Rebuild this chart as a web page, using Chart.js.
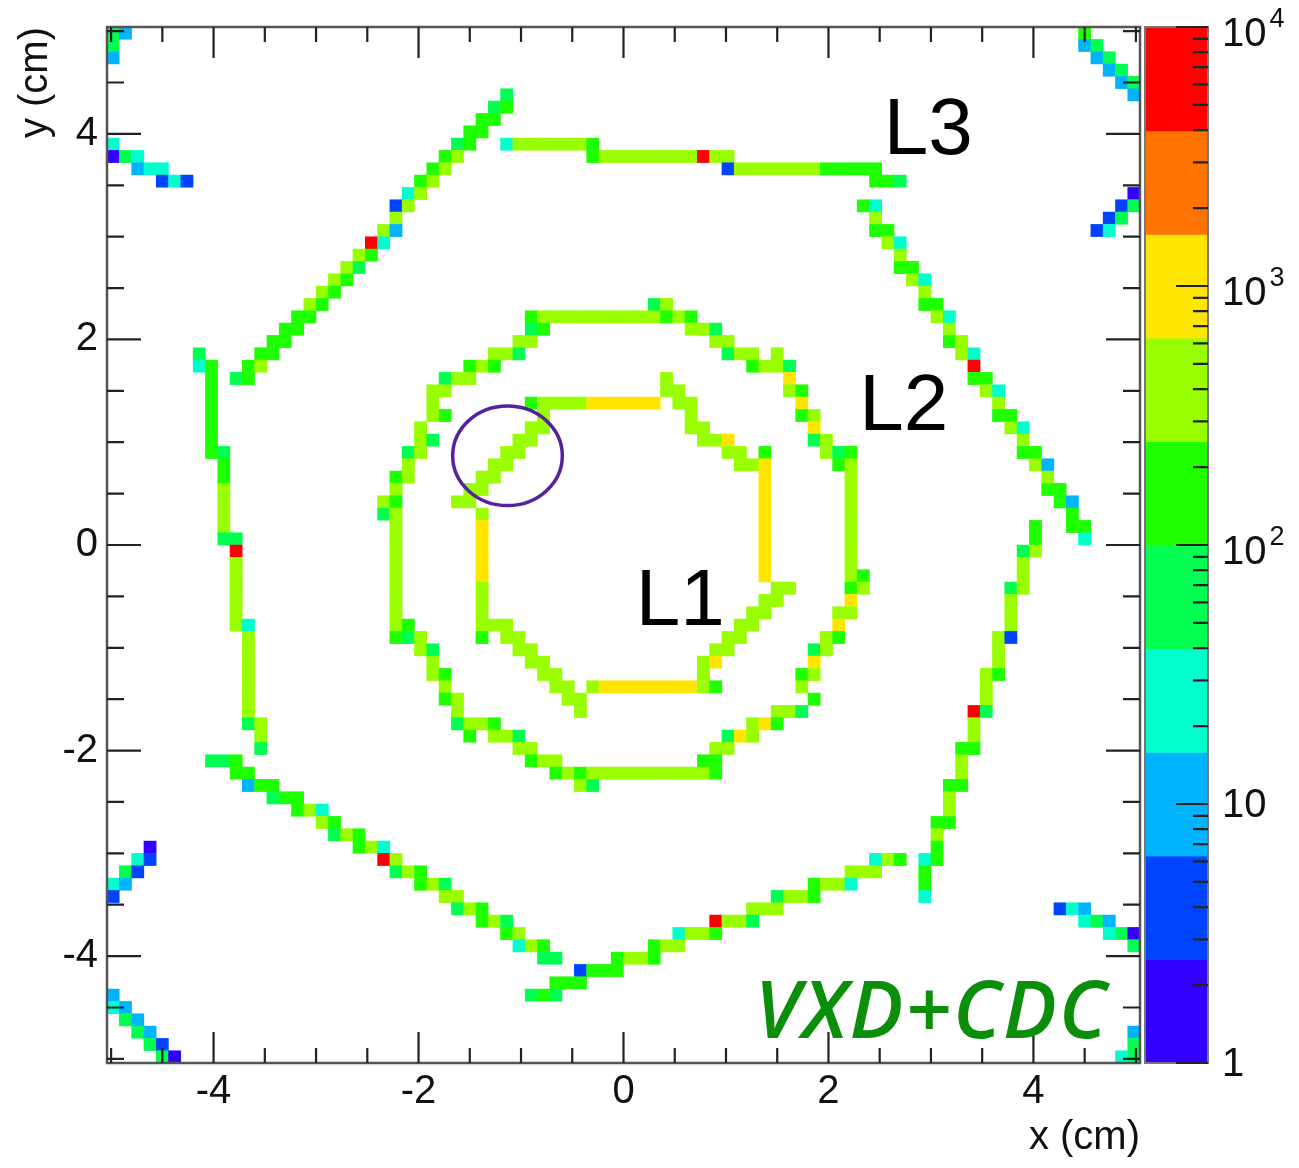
<!DOCTYPE html>
<html>
<head>
<meta charset="utf-8">
<title>Vertex map in x-y</title>
<script src="https://cdn.jsdelivr.net/npm/chart.js@4.4.1/dist/chart.umd.min.js"></script>
<style>
  html, body { margin: 0; padding: 0; background: #ffffff; }
  #wrap { width: 1299px; height: 1168px; }
</style>
</head>
<body>
<div id="wrap"><canvas id="map" width="1299" height="1168"></canvas></div>
<script>
// 2D histogram: 84 x 84 bins of 0.12 cm covering -5.04 .. 5.04 cm in x and y
const BIN = 0.12;
const HALF_RANGE = 5.04;

const xTickLabels = [-4, -2, 0, 2, 4];
const yTickLabels = [-4, -2, 0, 2, 4];
const minorStep = 0.5;

// colour scale (log z, 1 .. 10^4, ten bands)
const zTickValues = [1, 10, 100, 1000, 10000];
const zTickBases = ['1', '10', '10', '10', '10'];
const zTickExponents = ['', '', '2', '3', '4'];
const zBandColors = ['#3300ff', '#0044ff', '#00b4ff', '#00ffcc', '#00ff50',
                     '#1eff00', '#99ff00', '#ffe600', '#ff7300', '#ff0000'];

// Each row: [y bin, first x bin, counts of consecutive x bins...]
const layer1Rows = [
  [13, 3, 400],
  [12, 3, 400, 400],
  [11, -8, 160, 400, 400, 400, 400, 1000, 1000, 1000, 1000, 1000, 1000],
  [11, 4, 400, 400],
  [10, -7, 400], [10, 5, 400],
  [9, -8, 400, 400], [9, 5, 400, 400],
  [8, -9, 400, 400], [8, 6, 400, 400, 1000],
  [7, -10, 400, 400], [7, 8, 400, 400], [7, 11, 160],
  [6, -11, 400, 400], [6, 9, 400, 400, 1000],
  [5, -12, 400, 400], [5, 11, 1000],
  [4, -13, 400, 400], [4, 11, 1000],
  [3, -14, 400, 400], [3, 11, 1000],
  [2, -12, 400], [2, 11, 1000],
  [1, -12, 1000], [1, 11, 1000],
  [0, -12, 1000], [0, 11, 1000],
  [-1, -12, 1000], [-1, 11, 1000],
  [-2, -12, 1000], [-2, 11, 1000],
  [-3, -12, 1000], [-3, 11, 1000],
  [-4, -12, 400], [-4, 12, 400, 400],
  [-5, -12, 400], [-5, 11, 400, 400],
  [-6, -12, 400], [-6, 10, 400, 400],
  [-7, -12, 400, 400, 400], [-7, 9, 400, 400],
  [-8, -12, 160], [-8, -10, 400, 400], [-8, 8, 400, 400],
  [-9, -9, 400, 400], [-9, 7, 400, 400],
  [-10, -8, 400, 400], [-10, 6, 400, 1000],
  [-11, -7, 400, 400], [-11, 6, 400],
  [-12, -6, 400, 400],
  [-12, -3, 400, 1000, 1000, 1000, 1000, 1000, 1000, 1000, 1000, 400, 160],
  [-13, -5, 400, 400],
  [-14, -4, 400]
];

const layer2Rows = [
  [19, 2, 60, 400],
  [18, -8, 160, 400, 400, 400, 400, 400, 400, 400, 400, 400, 400, 160, 400, 160],
  [17, -8, 60, 160], [17, 5, 400, 400, 60],
  [16, -9, 400, 400], [16, 7, 400, 400],
  [15, -11, 400, 400, 60], [15, 8, 60, 400, 400], [15, 12, 400],
  [14, -13, 160, 400, 160], [14, 10, 160, 400, 400, 60],
  [13, -15, 60, 400, 400], [13, 13, 1000],
  [12, -16, 400, 400], [12, 13, 400, 160],
  [11, -16, 400], [11, 14, 1000],
  [10, -16, 400, 160], [10, 14, 160, 400],
  [9, -17, 400], [9, 15, 1000],
  [8, -17, 400, 60], [8, 15, 60, 400],
  [7, -18, 60, 400], [7, 16, 400, 60, 160],
  [6, -18, 400], [6, 17, 160, 400],
  [5, -19, 160, 400], [5, 18, 400],
  [4, -19, 400], [4, 18, 400],
  [3, -20, 400, 160], [3, 18, 400],
  [2, -20, 60, 400], [2, 18, 400],
  [1, -19, 400], [1, 18, 400],
  [0, -19, 400], [0, 18, 400],
  [-1, -19, 400], [-1, 18, 400],
  [-2, -19, 400], [-2, 18, 400],
  [-3, -19, 400], [-3, 18, 400, 160],
  [-4, -19, 400], [-4, 18, 160, 400],
  [-5, -19, 400], [-5, 18, 1000],
  [-6, -19, 400], [-6, 17, 400, 400],
  [-7, -19, 400, 160], [-7, 17, 1000],
  [-8, -19, 160, 60, 400], [-8, 16, 400, 160],
  [-9, -17, 400, 60], [-9, 15, 60, 400],
  [-10, -16, 400], [-10, 15, 1000],
  [-11, -16, 400, 160], [-11, 14, 160, 400],
  [-12, -15, 400], [-12, 14, 400],
  [-13, -15, 160, 400], [-13, 15, 160],
  [-14, -14, 400], [-14, 12, 400, 400, 60],
  [-15, -14, 60, 400, 400, 160], [-15, 10, 400, 1000, 160],
  [-16, -13, 160], [-16, -11, 400, 400, 60], [-16, 8, 60, 1000, 400],
  [-17, -9, 400, 400], [-17, 7, 400, 400],
  [-18, -8, 160, 400, 400], [-18, 6, 160, 160],
  [-19, -6, 160, 400, 160, 400, 400, 400, 400, 400, 400, 400, 400, 400, 400, 160],
  [-20, -4, 400, 60]
];

const layer3Rows = [
  // upper-left ladder
  [36, -10, 60], [35, -11, 60, 160], [34, -12, 160, 160], [33, -13, 160, 160],
  [32, -14, 60, 160], [31, -15, 160, 400], [30, -16, 160, 400], [29, -17, 160, 400],
  [28, -18, 25, 400], [27, -19, 4, 400], [26, -19, 400], [25, -20, 400, 10],
  [24, -21, 6000, 25], [23, -22, 400, 160], [22, -23, 400, 60], [21, -24, 400, 160],
  [20, -25, 400, 160], [19, -26, 400, 160], [18, -27, 160, 160], [17, -28, 160, 160],
  [16, -29, 160, 160], [15, -30, 160, 160], [14, -31, 160, 400], [13, -32, 60, 160],
  // top ladder
  [32, -10, 25, 400, 400, 400, 400, 400, 400, 160],
  [31, -3, 160, 400, 400, 400, 400, 400, 400, 400, 400, 6000, 400, 400],
  [30, 8, 4, 400, 400, 400, 400, 400, 400, 400, 160, 160, 160, 160, 160],
  [29, 20, 160, 160, 60],
  // upper-right ladder
  [27, 19, 160, 25], [26, 20, 400], [25, 20, 160, 160], [24, 21, 400, 25],
  [23, 22, 400], [22, 22, 160, 160], [21, 23, 400, 25], [20, 24, 400],
  [19, 24, 160, 160], [18, 25, 400, 25], [17, 26, 400], [16, 26, 160, 400],
  [15, 27, 400, 25], [14, 28, 6000], [13, 28, 160, 160], [12, 29, 400, 25],
  [11, 30, 400], [10, 30, 160, 160], [9, 31, 400, 25], [8, 32, 400],
  [7, 32, 160, 160], [6, 33, 400, 10], [5, 34, 400], [4, 34, 160, 160],
  [3, 35, 160, 10], [2, 36, 160], [1, 36, 160, 160], [0, 37, 25],
  // lower-right ladder
  [1, 33, 160], [0, 33, 160], [-1, 32, 60, 400], [-2, 32, 400], [-3, 32, 400],
  [-4, 31, 60, 400], [-5, 31, 400], [-6, 31, 400], [-7, 31, 400], [-8, 30, 400, 4],
  [-9, 30, 400], [-10, 30, 400], [-11, 29, 400, 160], [-12, 29, 400], [-13, 29, 400],
  [-14, 28, 6000, 60], [-15, 28, 400], [-16, 28, 400], [-17, 27, 160, 160],
  [-18, 27, 400], [-19, 27, 400], [-20, 26, 160, 160], [-21, 26, 400], [-22, 26, 400],
  [-23, 25, 160, 160], [-24, 25, 400], [-25, 25, 160], [-26, 24, 25, 160],
  [-27, 24, 160], [-28, 24, 160], [-29, 24, 25],
  // bottom ladder
  [-26, 20, 25, 400, 160], [-27, 18, 400, 400, 400], [-28, 15, 160, 400, 400, 25],
  [-29, 12, 60, 400, 400, 160], [-30, 10, 400, 400, 400], [-31, 7, 6000, 400, 400, 60],
  [-32, 4, 25, 400, 400, 160], [-33, 2, 160, 400, 400], [-34, -1, 160, 400, 400, 160],
  [-35, -4, 4, 160, 160, 160], [-36, -6, 160, 160, 160], [-37, -8, 60, 160, 60],
  // lower-left ladder
  [-18, -34, 60, 60, 160], [-19, -32, 160, 160], [-20, -31, 10, 160, 160],
  [-21, -29, 60, 160, 160], [-22, -27, 160, 400, 25], [-23, -25, 400, 160],
  [-24, -24, 60, 400, 160], [-25, -22, 160, 400, 25], [-26, -20, 6000, 400],
  [-27, -19, 60, 400, 160], [-28, -17, 160, 400, 60], [-29, -15, 400, 400],
  [-30, -14, 60, 400, 160], [-31, -12, 160, 400, 60], [-32, -10, 160, 400],
  [-33, -9, 25, 400, 160], [-34, -7, 60, 60],
  // left ladder
  [15, -35, 60], [14, -35, 25, 160],
  [13, -34, 160], [12, -34, 160], [11, -34, 160], [10, -34, 160], [9, -34, 160],
  [8, -34, 160], [7, -34, 160, 60], [6, -33, 160], [5, -33, 160],
  [4, -33, 400], [3, -33, 400], [2, -33, 400], [1, -33, 400], [0, -33, 60, 60],
  [-1, -32, 6000], [-2, -32, 400], [-3, -32, 400], [-4, -32, 400], [-5, -32, 400],
  [-6, -32, 400], [-7, -32, 400, 25],
  [-8, -31, 400], [-9, -31, 400], [-10, -31, 400], [-11, -31, 400], [-12, -31, 400],
  [-13, -31, 400], [-14, -31, 400], [-15, -31, 60, 400], [-16, -30, 400], [-17, -30, 60]
];

const outerRows = [
  [41, -42, 60, 10], [40, -42, 60], [39, -42, 10],
  [32, -42, 25], [31, -42, 2, 60, 25], [30, -40, 10, 25, 25], [29, -38, 4, 25, 4],
  [41, 37, 160], [40, 37, 10, 60], [39, 38, 10, 60], [38, 39, 10, 60], [37, 40, 10, 60], [36, 41, 10],
  [28, 41, 2], [27, 40, 4, 60], [26, 39, 4, 60], [25, 38, 4, 25],
  [-25, -39, 2], [-26, -40, 25, 4], [-27, -41, 60, 4], [-28, -42, 25, 10], [-29, -42, 4],
  [-37, -42, 10], [-38, -42, 25, 10], [-39, -41, 60, 10], [-40, -40, 60, 10],
  [-41, -39, 60, 4], [-42, -38, 60, 2],
  [-30, 35, 4, 25, 10], [-31, 37, 25, 60, 10], [-32, 39, 25, 60, 2], [-33, 41, 60],
  [-40, 41, 10], [-41, 41, 60], [-42, 40, 25, 60]
];

// annotations (positions in cm)
const layerLabels = [
  { text: 'L1', x: 0.12, y: -0.78 },
  { text: 'L2', x: 2.30, y: 1.12 },
  { text: 'L3', x: 2.54, y: 3.80 }
];
const tagLabel = { text: 'VXD+CDC', x: 1.28, y: -4.80 };
const marker = { x: -1.132, y: 0.868, rx: 0.535, ry: 0.484 };

const FONT = '"Liberation Sans", Arial, Helvetica, sans-serif';

function cellsFrom(rows) {
  const pts = [];
  rows.forEach(([iy, ix0, ...counts]) => {
    counts.forEach((c, k) => pts.push({ x: (ix0 + k + 0.5) * BIN, y: (iy + 0.5) * BIN, v: c }));
  });
  return pts;
}

function bandOf(v) {
  return Math.min(9, Math.max(0, Math.floor(Math.log10(v) / 0.4 + 1e-9)));
}

function cellRadius(ctx) {
  const s = ctx.chart.scales.x;
  const w = Math.abs(s.getPixelForValue(BIN) - s.getPixelForValue(0));
  return (w + 0.5) / Math.SQRT2;
}

function cellDataset(label, rows) {
  return {
    label,
    data: cellsFrom(rows),
    pointStyle: 'rect',
    pointRadius: cellRadius,
    pointHoverRadius: cellRadius,
    pointBorderWidth: 0,
    pointHoverBorderWidth: 0,
    pointBackgroundColor: (c) => zBandColors[bandOf(c.raw.v)],
    pointHoverBackgroundColor: (c) => zBandColors[bandOf(c.raw.v)],
    showLine: false,
    clip: 0
  };
}

const frameAndKeys = {
  id: 'frameAndKeys',
  afterDraw(chart) {
    const { ctx, chartArea: a } = chart;
    const xs = chart.scales.x, ys = chart.scales.y, zs = chart.scales.z;
    ctx.save();

    // ellipse around the highlighted ladder
    ctx.strokeStyle = '#53239b';
    ctx.lineWidth = 3.5;
    ctx.beginPath();
    const ex = xs.getPixelForValue(marker.x), ey = ys.getPixelForValue(marker.y);
    const erx = Math.abs(xs.getPixelForValue(marker.x + marker.rx) - ex);
    const ery = Math.abs(ys.getPixelForValue(marker.y + marker.ry) - ey);
    ctx.ellipse(ex, ey, erx, ery, 0, 0, Math.PI * 2);
    ctx.stroke();

    // frame
    ctx.strokeStyle = '#555555';
    ctx.lineWidth = 2.5;
    ctx.strokeRect(a.left, a.top, a.right - a.left, a.bottom - a.top);

    // inward ticks on all four sides
    ctx.strokeStyle = '#222222';
    ctx.lineWidth = 2.2;
    ctx.beginPath();
    for (let k = -10; k <= 10; k++) {
      const v = k * minorStep;
      const px = xs.getPixelForValue(v), py = ys.getPixelForValue(v);
      const lx = xTickLabels.includes(v) ? 31 : 15;
      const ly = yTickLabels.includes(v) ? 34 : 17;
      ctx.moveTo(px, a.bottom); ctx.lineTo(px, a.bottom - lx);
      ctx.moveTo(px, a.top); ctx.lineTo(px, a.top + lx);
      ctx.moveTo(a.left, py); ctx.lineTo(a.left + ly, py);
      ctx.moveTo(a.right, py); ctx.lineTo(a.right - ly, py);
    }
    ctx.stroke();

    // colour bar
    const cbL = a.right + 5, cbR = a.right + 68;
    for (let b = 0; b < zBandColors.length; b++) {
      const lo = Math.pow(10, 0.4 * b), hi = Math.pow(10, 0.4 * (b + 1));
      const y0 = zs.getPixelForValue(lo), y1 = zs.getPixelForValue(hi);
      ctx.fillStyle = zBandColors[b];
      ctx.fillRect(cbL, y1, cbR - cbL, y0 - y1 + 0.6);
    }
    ctx.strokeStyle = '#777777';
    ctx.lineWidth = 2;
    ctx.strokeRect(cbL, zs.getPixelForValue(10000), cbR - cbL,
                   zs.getPixelForValue(1) - zs.getPixelForValue(10000));
    ctx.strokeStyle = '#222222';
    ctx.lineWidth = 2.2;
    ctx.beginPath();
    for (let e = 0; e <= 4; e++) {
      for (let m = 1; m <= 9; m++) {
        const v = m * Math.pow(10, e);
        if (v > 10000) break;
        const py = zs.getPixelForValue(v);
        const len = m === 1 ? 32 : 15;
        ctx.moveTo(cbR, py); ctx.lineTo(cbR - len, py);
      }
    }
    ctx.stroke();

    // colour bar labels
    ctx.fillStyle = '#111111';
    ctx.textAlign = 'left';
    ctx.textBaseline = 'alphabetic';
    zTickValues.forEach((v, idx) => {
      const py = zs.getPixelForValue(v);
      const base = zTickBases[idx], exp = zTickExponents[idx];
      const lx = cbR + 14;
      ctx.font = '40px ' + FONT;
      if (exp) {
        const baseY = py + 19;
        ctx.fillText(base, lx, baseY);
        const w = ctx.measureText(base).width;
        ctx.font = '27px ' + FONT;
        ctx.fillText(exp, lx + w + 3, baseY - 19);
      } else {
        ctx.fillText(base, lx, py + 13);
      }
    });

    // axis titles
    ctx.font = '40px ' + FONT;
    ctx.fillStyle = '#111111';
    ctx.textAlign = 'right';
    ctx.fillText('x (cm)', a.right, 1149);
    ctx.save();
    ctx.translate(47, a.top);
    ctx.rotate(-Math.PI / 2);
    ctx.fillText('y (cm)', 0, 0);
    ctx.restore();

    // layer names
    ctx.textAlign = 'left';
    ctx.fillStyle = '#000000';
    ctx.font = '80px ' + FONT;
    layerLabels.forEach(l => ctx.fillText(l.text, xs.getPixelForValue(l.x), ys.getPixelForValue(l.y)));

    ctx.fillStyle = '#0b8f0b';
    ctx.font = 'italic 600 80px "Open Sans", "DejaVu Sans", sans-serif';
    if ('letterSpacing' in ctx) ctx.letterSpacing = '2px';
    ctx.fillText(tagLabel.text, xs.getPixelForValue(tagLabel.x), ys.getPixelForValue(tagLabel.y));

    ctx.restore();
  }
};

new Chart(document.getElementById('map'), {
  type: 'scatter',
  data: {
    datasets: [
      cellDataset('L1', layer1Rows),
      cellDataset('L2', layer2Rows),
      cellDataset('L3', layer3Rows),
      cellDataset('outer', outerRows)
    ]
  },
  options: {
    responsive: false,
    animation: false,
    events: [],
    layout: { padding: { top: 27, right: 159, bottom: 0, left: 0 } },
    plugins: { legend: { display: false }, tooltip: { enabled: false } },
    scales: {
      x: {
        type: 'linear', min: -HALF_RANGE, max: HALF_RANGE,
        grid: { display: false, drawTicks: false, tickLength: 0 },
        border: { display: false },
        ticks: { color: '#111111', font: { family: FONT, size: 40 }, padding: 5,
                 maxRotation: 0, autoSkip: false, callback: (v) => String(v) },
        afterBuildTicks: (s) => { s.ticks = xTickLabels.map(v => ({ value: v })); },
        afterFit: (s) => { s.height = 105; s.paddingLeft = 0; s.paddingRight = 0; }
      },
      y: {
        type: 'linear', min: -HALF_RANGE, max: HALF_RANGE,
        grid: { display: false, drawTicks: false, tickLength: 0 },
        border: { display: false },
        ticks: { color: '#111111', font: { family: FONT, size: 40 }, padding: 9,
                 autoSkip: false, callback: (v) => String(v) },
        afterBuildTicks: (s) => { s.ticks = yTickLabels.map(v => ({ value: v })); },
        afterFit: (s) => { s.width = 107; s.paddingTop = 0; s.paddingBottom = 0; }
      },
      z: {
        type: 'logarithmic', position: 'right', min: 1, max: 10000, display: false
      }
    }
  },
  plugins: [frameAndKeys]
});
</script>
</body>
</html>
